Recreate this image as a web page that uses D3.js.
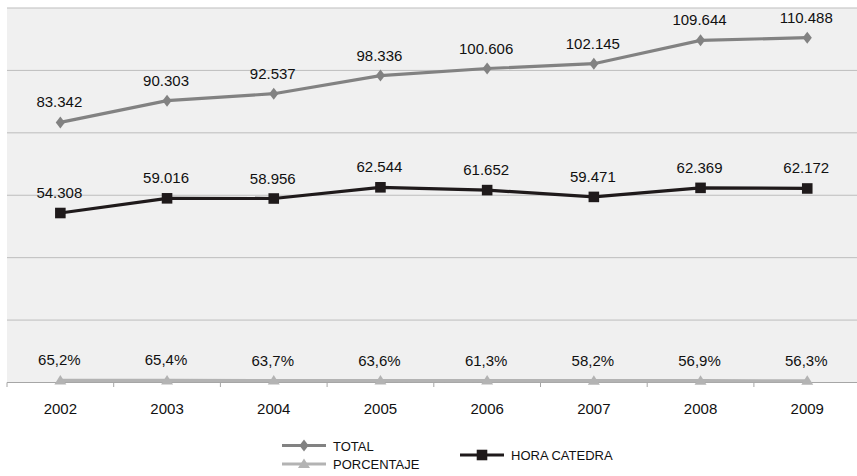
<!DOCTYPE html>
<html>
<head>
<meta charset="utf-8">
<script src="https://cdn.jsdelivr.net/npm/d3@7"></script>
<style>
  html, body { margin: 0; padding: 0; background: #fff; }
  svg { display: block; font-family: "Liberation Sans", Arial, sans-serif; }
</style>
</head>
<body>
<svg id="chart" width="857" height="476"></svg>
<script>
// Years on the category axis
const years = ["2002", "2003", "2004", "2005", "2006", "2007", "2008", "2009"];
// Totals (thousands, Spanish decimal notation in labels)
const total = [83.342, 90.303, 92.537, 98.336, 100.606, 102.145, 109.644, 110.488];
// Hora cátedra
const horaCatedra = [54.308, 59.016, 58.956, 62.544, 61.652, 59.471, 62.369, 62.172];
// Share, plotted as a fraction on the same axis
const porcentaje = [0.652, 0.654, 0.637, 0.636, 0.613, 0.582, 0.569, 0.563];
const yTicks = [0, 20, 40, 60, 80, 100, 120];

const svg = d3.select("#chart");
const plotLeft = 7, plotRight = 860.6, plotTop = 8, plotBottom = 382.5;

const x = d3.scaleBand().domain(years).range([plotLeft, plotRight]).paddingInner(0).paddingOuter(0);
const y = d3.scaleLinear().domain([0, 120]).range([plotBottom, plotTop]);
const cx = d => x(d) + x.bandwidth() / 2;

// plot background
svg.append("rect")
  .attr("x", plotLeft).attr("y", plotTop)
  .attr("width", plotRight - plotLeft).attr("height", plotBottom - plotTop)
  .attr("fill", "#f0f0f0");

// horizontal gridlines
svg.append("g").selectAll("line")
  .data(yTicks.filter(t => t > 0))
  .join("line")
  .attr("x1", plotLeft).attr("x2", plotRight)
  .attr("y1", d => y(d)).attr("y2", d => y(d))
  .attr("stroke", "#bdbdbd").attr("stroke-width", 1);

// category axis
const xAxis = svg.append("g").attr("transform", `translate(0,${plotBottom})`);
xAxis.append("line")
  .attr("x1", plotLeft).attr("x2", plotRight)
  .attr("stroke", "#a6a6a6").attr("stroke-width", 1.2);
xAxis.selectAll("line.tick")
  .data(years.concat(["end"]))
  .join("line").attr("class", "tick")
  .attr("x1", (d, i) => plotLeft + i * x.bandwidth())
  .attr("x2", (d, i) => plotLeft + i * x.bandwidth())
  .attr("y1", 0).attr("y2", 4.5)
  .attr("stroke", "#a6a6a6").attr("stroke-width", 1);
xAxis.selectAll("text")
  .data(years)
  .join("text")
  .attr("x", d => cx(d)).attr("y", 31)
  .attr("text-anchor", "middle")
  .attr("font-size", 15).attr("fill", "#111")
  .text(d => d);

const line = d3.line().x((d, i) => cx(years[i])).y(d => y(d));
const fmtThousands = v => {
  const [a, b] = v.toFixed(3).split(".");
  return a + "." + b;
};
const fmtPct = v => (v * 100).toFixed(1).replace(".", ",") + "%";

// marker shapes: tall diamond, square, triangle
const diamond = "M0,-6L4.6,0L0,6L-4.6,0Z";
const square = d3.symbol().type(d3.symbolSquare).size(112)();
const triangle = "M0,-5.5L6,4L-6,4Z";

function drawSeries(values, color, marker, fmt) {
  const g = svg.append("g");
  g.append("path")
    .attr("d", line(values))
    .attr("fill", "none").attr("stroke", color).attr("stroke-width", 3.2);
  g.selectAll("path.mark")
    .data(values)
    .join("path").attr("class", "mark")
    .attr("d", marker)
    .attr("transform", (d, i) => `translate(${cx(years[i])},${y(d)})`)
    .attr("fill", color);
  g.selectAll("text")
    .data(values)
    .join("text")
    .attr("x", (d, i) => cx(years[i]) - 1)
    .attr("y", d => y(d) - 15)
    .attr("text-anchor", "middle")
    .attr("font-size", 15).attr("fill", "#111")
    .text(fmt);
}

drawSeries(porcentaje, "#b3b3b3", triangle, fmtPct);
drawSeries(total, "#828282", diamond, fmtThousands);
drawSeries(horaCatedra, "#1f1a1b", square, fmtThousands);

// legend
const legend = [
  { name: "TOTAL", color: "#828282", marker: diamond, x: 282, y: 445.5 },
  { name: "PORCENTAJE", color: "#b3b3b3", marker: triangle, x: 282, y: 464 },
  { name: "HORA CATEDRA", color: "#1f1a1b", marker: square, x: 460, y: 455 }
];
const lg = svg.append("g").selectAll("g").data(legend).join("g")
  .attr("transform", d => `translate(${d.x},${d.y})`);
lg.append("line")
  .attr("x1", 0).attr("x2", 44)
  .attr("stroke", d => d.color).attr("stroke-width", 3.2);
lg.append("path")
  .attr("d", d => d.marker)
  .attr("transform", "translate(22,0)")
  .attr("fill", d => d.color);
lg.append("text")
  .attr("x", 51).attr("y", 5)
  .attr("font-size", 13).attr("fill", "#111")
  .text(d => d.name);
</script>
</body>
</html>
